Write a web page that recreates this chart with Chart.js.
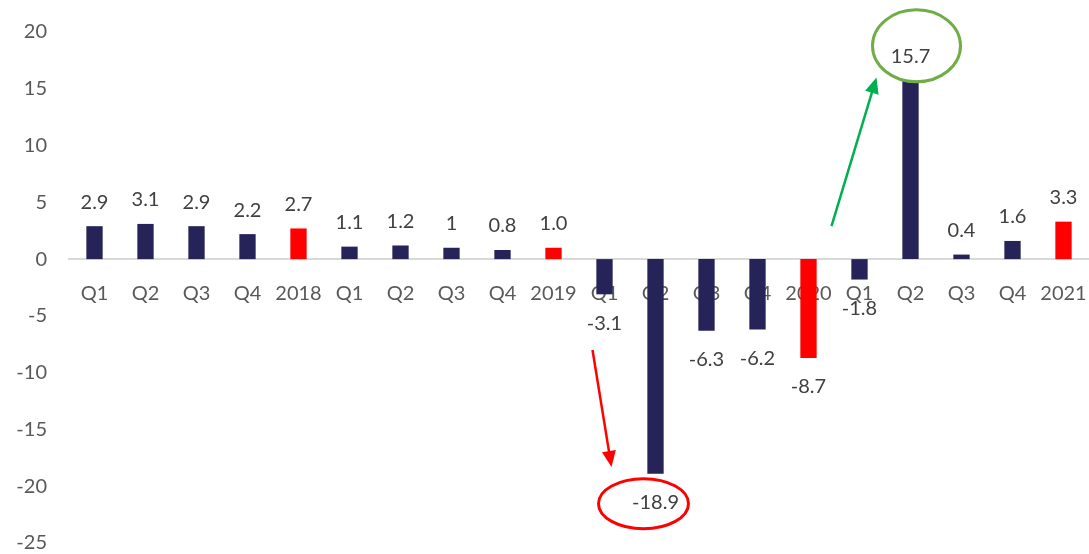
<!DOCTYPE html>
<html>
<head>
<meta charset="utf-8">
<style>
  html, body { margin: 0; padding: 0; background: #fff; }
  #wrap { width: 1089px; height: 554px; }
</style>
<script src="https://cdn.jsdelivr.net/npm/chart.js"></script>
</head>
<body>
<div id="wrap"><canvas id="growthChart"></canvas></div>
<script>
  // Catégories (trimestres + moyennes annuelles)
  const categories = ['Q1', 'Q2', 'Q3', 'Q4', '2018',
                      'Q1', 'Q2', 'Q3', 'Q4', '2019',
                      'Q1', 'Q2', 'Q3', 'Q4', '2020',
                      'Q1', 'Q2', 'Q3', 'Q4', '2021'];
  const values = [2.9, 3.1, 2.9, 2.2, 2.7,
                  1.1, 1.2, 1, 0.8, 1.0,
                  -3.1, -18.9, -6.3, -6.2, -8.7,
                  -1.8, 15.7, 0.4, 1.6, 3.3];
  const valueLabels = ['2.9', '3.1', '2.9', '2.2', '2.7',
                       '1.1', '1.2', '1', '0.8', '1.0',
                       '-3.1', '-18.9', '-6.3', '-6.2', '-8.7',
                       '-1.8', '15.7', '0.4', '1.6', '3.3'];
  const isYear = [false, false, false, false, true,
                  false, false, false, false, true,
                  false, false, false, false, true,
                  false, false, false, false, true];
  const yTicks = [20, 15, 10, 5, 0, -5, -10, -15, -20, -25];

  const NAVY = '#262358';
  const RED = '#FF0000';
  const TEXT = '#595959';
  const FONT = 'Lato, "Open Sans", sans-serif';

  // Étiquettes de valeurs au-dessus / en dessous des barres
  const valueLabelPlugin = {
    id: 'valueLabels',
    afterDatasetsDraw(chart) {
      const ctx = chart.ctx;
      const meta = chart.getDatasetMeta(0);
      ctx.save();
      ctx.font = '20px ' + FONT;
      ctx.fillStyle = '#404040';
      ctx.textAlign = 'center';
      ctx.textBaseline = 'middle';
      meta.data.forEach((bar, i) => {
        const y = values[i] >= 0 ? bar.y - 24 : bar.y + 29;
        ctx.fillText(valueLabels[i], bar.x, y);
      });
      ctx.restore();
    }
  };

  function arrow(ctx, x1, y1, x2, y2, color) {
    const ang = Math.atan2(y2 - y1, x2 - x1);
    const head = 16;
    ctx.strokeStyle = color;
    ctx.fillStyle = color;
    ctx.lineWidth = 2.5;
    ctx.beginPath();
    ctx.moveTo(x1, y1);
    ctx.lineTo(x2 - Math.cos(ang) * head * 0.8, y2 - Math.sin(ang) * head * 0.8);
    ctx.stroke();
    ctx.beginPath();
    ctx.moveTo(x2, y2);
    ctx.lineTo(x2 - head * Math.cos(ang) + 7 * Math.sin(ang), y2 - head * Math.sin(ang) - 7 * Math.cos(ang));
    ctx.lineTo(x2 - head * Math.cos(ang) - 7 * Math.sin(ang), y2 - head * Math.sin(ang) + 7 * Math.cos(ang));
    ctx.closePath();
    ctx.fill();
  }

  // Cercles et flèches de mise en évidence
  const highlightPlugin = {
    id: 'highlights',
    afterDraw(chart) {
      const ctx = chart.ctx;
      const xs = chart.scales.x, ys = chart.scales.y;
      ctx.save();
      ctx.lineWidth = 3;
      // creux Q2 2020
      ctx.strokeStyle = RED;
      ctx.beginPath();
      ctx.ellipse(xs.getPixelForValue(11) - 12, ys.getPixelForValue(-18.9) + 30, 45, 25, 0, 0, Math.PI * 2);
      ctx.stroke();
      // rebond Q2 2021
      ctx.strokeStyle = '#70AD47';
      ctx.beginPath();
      ctx.ellipse(xs.getPixelForValue(16) + 6, ys.getPixelForValue(15.7) - 35, 44, 36, 0, 0, Math.PI * 2);
      ctx.stroke();
      arrow(ctx, xs.getPixelForValue(10) - 12, ys.getPixelForValue(-8),
                 xs.getPixelForValue(10) + 7, ys.getPixelForValue(-18.3), RED);
      arrow(ctx, xs.getPixelForValue(15) - 28, ys.getPixelForValue(2.9),
                 xs.getPixelForValue(15) + 17, ys.getPixelForValue(16), '#00B050');
      ctx.restore();
    }
  };

  const ctx = document.getElementById('growthChart').getContext('2d');
  new Chart(ctx, {
    type: 'bar',
    data: {
      labels: categories,
      datasets: [{
        data: values,
        backgroundColor: isYear.map(y => y ? RED : NAVY),
        categoryPercentage: 1,
        barPercentage: 0.32
      }]
    },
    options: {
      responsive: true,
      maintainAspectRatio: false,
      animation: false,
      layout: { padding: { top: 32, bottom: 11, left: 0, right: 0 } },
      plugins: {
        legend: { display: false },
        tooltip: { enabled: false }
      },
      scales: {
        x: {
          position: { y: 0 },
          z: 1,
          afterFit(scale) {
            scale.height = 0;
            scale.paddingLeft = 0;
            scale.paddingRight = 0;
          },
          grid: { display: false, drawTicks: false },
          border: { display: true, color: '#D9D9D9', width: 2 },
          ticks: {
            padding: 22,
            maxRotation: 0,
            autoSkip: false,
            color: TEXT,
            font: { family: FONT, size: 20 }
          }
        },
        y: {
          min: -25,
          max: 20,
          afterFit(scale) {
            scale.width = 69;
            scale.paddingTop = 0;
            scale.paddingBottom = 0;
          },
          afterBuildTicks(scale) { scale.ticks = yTicks.map(v => ({ value: v })); },
          grid: { display: false, drawTicks: false },
          border: { display: false },
          ticks: {
            padding: 22,
            color: TEXT,
            font: { family: FONT, size: 20 }
          }
        }
      }
    },
    plugins: [valueLabelPlugin, highlightPlugin]
  });
</script>
</body>
</html>
